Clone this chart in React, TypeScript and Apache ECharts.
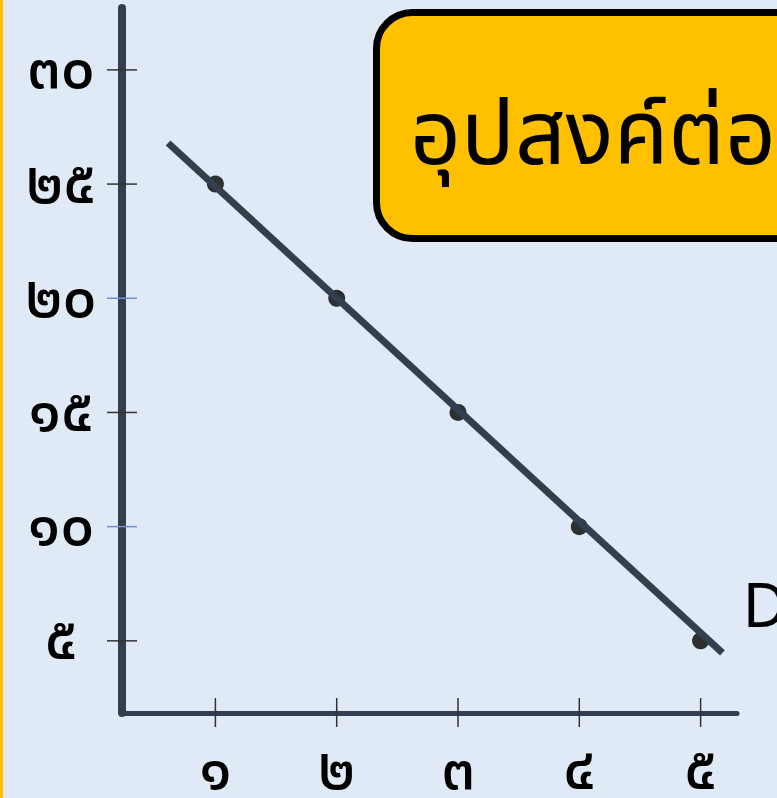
import React, { useEffect, useRef } from "react";
import * as echarts from "echarts";

// ---- data ----
const QUANTITY = [1, 2, 3, 4, 5];
const PRICE = [25, 20, 15, 10, 5];
const X_TICKS = [1, 2, 3, 4, 5];
const Y_TICKS = [30, 25, 20, 15, 10, 5];
const Y_TICK_BLUE = [false, false, true, false, true, false];
const DEMAND_LINE_X = [0.61, 5.18];
const DEMAND_LINE_Y = [26.8, 4.47];
const LINE_LABEL = "D";
const TITLE = "อุปสงค์ต่อบุคคล";

const X_MIN = 0.23;
const X_MAX = 5.3;
const Y_MIN = 1.84;
const Y_MAX = 32.71;

const THAI_DIGITS = ["๐", "๑", "๒", "๓", "๔", "๕", "๖", "๗", "๘", "๙"];
const toThai = (n: number | string) =>
  String(n).replace(/\d/g, (d) => THAI_DIGITS[Number(d)]);

const FONT = '"Noto Sans Thai", "Noto Sans", "DejaVu Sans", sans-serif';
const DARK = "#333f50";

export default function App() {
  const ref = useRef<HTMLDivElement>(null);

  useEffect(() => {
    if (!ref.current) return;
    const chart = echarts.init(ref.current, undefined, { renderer: "svg" });

    const points = QUANTITY.map((q, i) => [q, PRICE[i]]);
    const line = DEMAND_LINE_X.map((x, i) => [x, DEMAND_LINE_Y[i]]);

    chart.setOption({
      animation: false,
      backgroundColor: "#dfeaf6",
      textStyle: { fontFamily: FONT },
      grid: {
        left: 122,
        right: 40,
        top: 8,
        bottom: 85,
        containLabel: false,
        outerBoundsMode: "none",
      },
      xAxis: {
        type: "value",
        min: X_MIN,
        max: X_MAX,
        axisLine: { show: true, lineStyle: { color: DARK, width: 5 } },
        axisTick: { show: false },
        splitLine: { show: false },
        axisLabel: {
          customValues: X_TICKS,
          formatter: (v: number) => toThai(v),
          fontSize: 60,
          fontWeight: 500,
          color: "#000",
          margin: 27,
          fontFamily: FONT,
        },
      },
      yAxis: {
        type: "value",
        min: Y_MIN,
        max: Y_MAX,
        axisLine: { show: true, lineStyle: { color: DARK, width: 8 } },
        axisTick: { show: false },
        splitLine: { show: false },
        axisLabel: {
          customValues: Y_TICKS,
          formatter: (v: number) => toThai(v),
          fontSize: 60,
          fontWeight: 500,
          color: "#000",
          margin: 61,
          align: "center",
          padding: [16, 0, 0, 0],
          fontFamily: FONT,
        },
      },
      graphic: [
        {
          type: "rect",
          left: 0,
          top: 0,
          shape: { width: 3, height: 798 },
          style: { fill: "#ffc000" },
          silent: true,
        },
        {
          type: "rect",
          shape: { x: 376.5, y: 12.5, width: 480, height: 226, r: 36 },
          style: { fill: "#ffc000", stroke: "#000", lineWidth: 7 },
          silent: true,
          z: 10,
        },
        {
          type: "text",
          x: 410,
          y: 137,
          style: {
            text: TITLE,
            font: `89px ${FONT}`,
            fill: "#000",
            verticalAlign: "middle",
          },
          silent: true,
          z: 11,
        },
      ],
      series: [
        {
          type: "custom",
          coordinateSystem: "cartesian2d",
          silent: true,
          clip: false,
          z: 1,
          data: X_TICKS.map((v) => [v, Y_MIN]),
          renderItem: (_p: any, api: any) => {
            const c = api.coord([api.value(0), Y_MIN]);
            return {
              type: "line",
              shape: { x1: c[0], y1: c[1] - 15, x2: c[0], y2: c[1] + 14 },
              style: { stroke: "#333", lineWidth: 1.5 },
            };
          },
        },
        {
          type: "custom",
          coordinateSystem: "cartesian2d",
          silent: true,
          clip: false,
          z: 1,
          data: Y_TICKS.map((v, i) => [X_MIN, v, Y_TICK_BLUE[i] ? 1 : 0]),
          renderItem: (_p: any, api: any) => {
            const c = api.coord([X_MIN, api.value(1)]);
            return {
              type: "line",
              shape: { x1: c[0] - 15, y1: c[1], x2: c[0] + 15, y2: c[1] },
              style: {
                stroke: api.value(2) ? "#6f8fcf" : "#333",
                lineWidth: 1.5,
              },
            };
          },
        },
        {
          type: "scatter",
          data: points,
          symbol: "circle",
          symbolSize: 17,
          itemStyle: { color: "#000" },
          silent: true,
          z: 3,
        },
        {
          type: "line",
          data: line,
          symbol: "none",
          lineStyle: { color: DARK, width: 7 },
          silent: true,
          z: 4,
          endLabel: {
            show: true,
            formatter: LINE_LABEL,
            fontSize: 62,
            color: "#000",
            fontFamily: FONT,
            offset: [12, -45],
          },
        },
      ],
    });

    return () => chart.dispose();
  }, []);

  return (
    <div
      ref={ref}
      style={{ position: "absolute", left: 0, top: 0, width: 777, height: 798 }}
    />
  );
}
